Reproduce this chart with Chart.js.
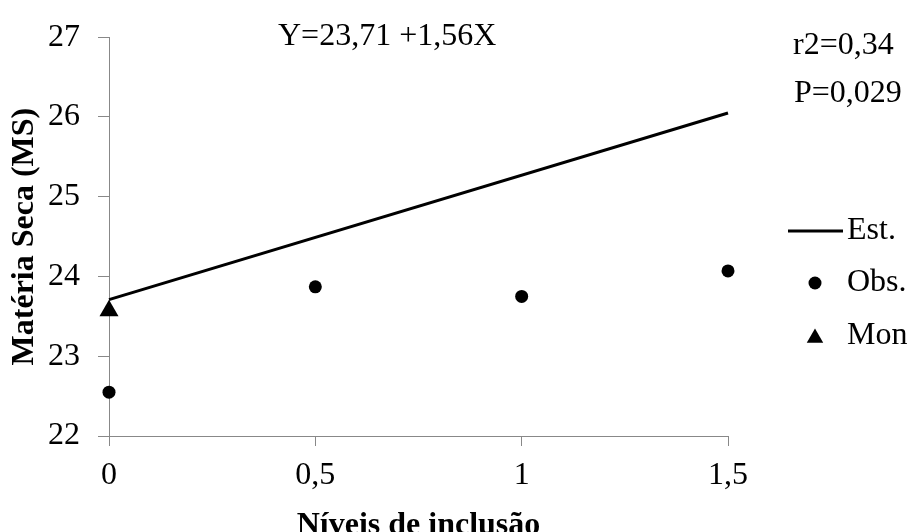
<!DOCTYPE html>
<html>
<head>
<meta charset="utf-8">
<script src="https://cdn.jsdelivr.net/npm/chart.js@4/dist/chart.umd.min.js"></script>
<style>
  html, body { margin: 0; padding: 0; background: #fff; }
  #wrap { width: 910px; height: 532px; }
</style>
</head>
<body>
<div id="wrap"><canvas id="c" width="910" height="532"></canvas></div>
<script>
// ---- data ----
const xTickValues = [0, 0.5, 1, 1.5];
const xTickLabels = ['0', '0,5', '1', '1,5'];
const yTickValues = [22, 23, 24, 25, 26, 27];
const yTickLabels = ['22', '23', '24', '25', '26', '27'];

const estX = [0, 1.5];
const estY = [23.71, 26.05];
const obsX = [0, 0.5, 1, 1.5];
const obsY = [22.55, 23.87, 23.75, 24.07];
const monX = [0];
const monY = [23.57];

const seriesNames = ['Est.', 'Obs.', 'Mon'];
const xTitle = 'Níveis de inclusão';
const yTitle = 'Matéria Seca (MS)';
const equationText = 'Y=23,71 +1,56X';
const r2Text = 'r2=0,34';
const pText = 'P=0,029';

// ---- chart ----
const FONT = '"Liberation Serif", "Times New Roman", serif';
Chart.defaults.font.family = FONT;
Chart.defaults.font.size = 32;
Chart.defaults.color = '#000';

const toPts = (xs, ys) => xs.map((x, i) => ({ x: x, y: ys[i] }));

const legendPlugin = {
  id: 'customLegend',
  afterDraw(chart) {
    const ctx = chart.ctx;
    const rows = [231, 283, 336];
    ctx.save();
    chart.data.datasets.forEach((ds, i) => {
      const y = rows[i];
      if (ds.showLine) {
        ctx.strokeStyle = ds.borderColor;
        ctx.lineWidth = ds.borderWidth;
        ctx.beginPath();
        ctx.moveTo(788, y);
        ctx.lineTo(843, y);
        ctx.stroke();
      } else {
        ctx.fillStyle = ds.pointBackgroundColor;
        ctx.strokeStyle = ds.pointBorderColor;
        Chart.helpers.drawPoint(ctx, {
          pointStyle: ds.pointStyle,
          radius: ds.legendRadius,
          borderWidth: 0,
          rotation: 0
        }, 815, y + (ds.pointStyle === 'triangle' ? 2 : 0));
      }
      ctx.fillStyle = '#000';
      ctx.font = '32px ' + FONT;
      ctx.textAlign = 'left';
      ctx.textBaseline = 'middle';
      ctx.fillText(ds.label, 847, y);
    });
    ctx.restore();
  }
};

const notesPlugin = {
  id: 'notes',
  afterDraw(chart) {
    const ctx = chart.ctx;
    ctx.save();
    ctx.fillStyle = '#000';
    ctx.font = '32px ' + FONT;
    ctx.textAlign = 'left';
    ctx.textBaseline = 'middle';
    ctx.fillText(equationText, 278, 37);
    ctx.fillText(r2Text, 793, 46);
    ctx.fillText(pText, 794, 94);
    ctx.restore();
  }
};

new Chart(document.getElementById('c'), {
  type: 'scatter',
  data: {
    datasets: [
      {
        label: seriesNames[0],
        data: toPts(estX, estY),
        showLine: true,
        borderColor: '#000',
        borderWidth: 3,
        pointRadius: 0,
        pointHoverRadius: 0,
        clip: false,
        order: 2
      },
      {
        label: seriesNames[1],
        data: toPts(obsX, obsY),
        showLine: false,
        pointStyle: 'circle',
        pointRadius: 6.5,
        legendRadius: 6.5,
        pointBackgroundColor: '#000',
        pointBorderColor: '#000',
        pointBorderWidth: 0,
        clip: false,
        order: 1
      },
      {
        label: seriesNames[2],
        data: toPts(monX, monY),
        showLine: false,
        pointStyle: 'triangle',
        pointRadius: 11,
        legendRadius: 9.5,
        pointBackgroundColor: '#000',
        pointBorderColor: '#000',
        pointBorderWidth: 0,
        clip: false,
        order: 0
      }
    ]
  },
  options: {
    responsive: false,
    animation: false,
    devicePixelRatio: 1,
    layout: { padding: { top: 25, right: 182, left: 0, bottom: 0 } },
    plugins: {
      legend: { display: false },
      tooltip: { enabled: false },
      title: { display: false }
    },
    scales: {
      x: {
        type: 'linear',
        min: 0,
        max: 1.5,
        afterBuildTicks: s => { s.ticks = xTickValues.map(v => ({ value: v })); },
        ticks: {
          callback: v => xTickLabels[xTickValues.indexOf(v)],
          padding: 10,
          maxRotation: 0,
          autoSkip: false,
          font: { size: 32, family: FONT }
        },
        grid: { drawOnChartArea: false, drawTicks: true, tickLength: 10, color: '#888', lineWidth: 1 },
        border: { display: true, color: '#888', width: 1 },
        title: {
          display: true,
          text: xTitle,
          font: { size: 32, weight: 'bold', family: FONT, lineHeight: 0.4 },
          padding: { top: 0, bottom: 0 }
        },
        afterFit: s => { s.height = 96; }
      },
      y: {
        type: 'linear',
        min: 22,
        max: 27,
        afterBuildTicks: s => { s.ticks = yTickValues.map(v => ({ value: v })); },
        ticks: {
          callback: v => yTickLabels[yTickValues.indexOf(v)],
          padding: 18,
          autoSkip: false,
          font: { size: 32, family: FONT }
        },
        grid: { drawOnChartArea: false, drawTicks: true, tickLength: 11, color: '#888', lineWidth: 1 },
        border: { display: true, color: '#888', width: 1 },
        title: {
          display: true,
          text: yTitle,
          font: { size: 32, weight: 'bold', family: FONT, lineHeight: 1.2 },
          padding: { top: 6, bottom: 0 }
        },
        afterFit: s => { s.width = 109; }
      }
    }
  },
  plugins: [legendPlugin, notesPlugin]
});
</script>
</body>
</html>
